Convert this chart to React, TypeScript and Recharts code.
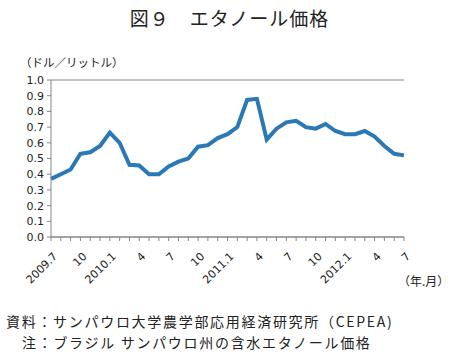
import React from 'react';
import {
  LineChart,
  Line,
  XAxis,
  YAxis,
  CartesianGrid
} from 'recharts';

// monthly categories, 2009.7 .. 2012.7
const MONTHS = [
  '2009.7', '2009.8', '2009.9', '2009.10', '2009.11', '2009.12',
  '2010.1', '2010.2', '2010.3', '2010.4', '2010.5', '2010.6',
  '2010.7', '2010.8', '2010.9', '2010.10', '2010.11', '2010.12',
  '2011.1', '2011.2', '2011.3', '2011.4', '2011.5', '2011.6',
  '2011.7', '2011.8', '2011.9', '2011.10', '2011.11', '2011.12',
  '2012.1', '2012.2', '2012.3', '2012.4', '2012.5', '2012.6',
  '2012.7'
];

// ドル／リットル
const PRICES = [
  0.37, 0.40, 0.43, 0.53, 0.54, 0.58,
  0.665, 0.60, 0.46, 0.455, 0.40, 0.40,
  0.45, 0.48, 0.50, 0.575, 0.585, 0.63,
  0.655, 0.70, 0.873, 0.88, 0.62, 0.69,
  0.73, 0.74, 0.70, 0.69, 0.72, 0.675,
  0.655, 0.655, 0.675, 0.64, 0.58, 0.53,
  0.52
];

// label shown on every third month
const TICK_LABELS = ['2009.7', '10', '2010.1', '4', '7', '10', '2011.1', '4', '7', '10', '2012.1', '4', '7'];

const Y_TICKS = [0, 0.1, 0.2, 0.3, 0.4, 0.5, 0.6, 0.7, 0.8, 0.9, 1.0];

const GRID = '#868686';
const BLUE = '#2a78b6';
const JP = '"Noto Sans CJK JP", "Noto Sans", sans-serif';

const data = MONTHS.map((m, i) => ({ month: m, price: PRICES[i] }));

const MonthTick = (props: any) => {
  const { x, y, index } = props;
  if (index % 3 !== 0) return <g />;
  const ax = x + 7;
  const ay = y + 14;
  return (
    <text
      x={ax}
      y={ay}
      transform={`rotate(-45, ${ax}, ${ay})`}
      textAnchor="end"
      fontSize={11}
      fontFamily="DejaVu Sans, sans-serif"
      fill="#222"
    >
      {TICK_LABELS[index / 3]}
    </text>
  );
};

export default function App() {
  return (
    <div style={{ position: 'absolute', left: 0, top: 0, width: 451, height: 362, background: '#fff', fontFamily: JP, color: '#222' }}>
      <div style={{ position: 'absolute', left: 0, width: 451, top: 5, textAlign: 'center', fontSize: 19, letterSpacing: 1, lineHeight: '26px', paddingLeft: 4 }}>
        図９　エタノール価格
      </div>
      <div style={{ position: 'absolute', left: 20, top: 54, fontSize: 11.5, lineHeight: '16px' }}>
        （ドル／リットル）
      </div>
      <div style={{ position: 'absolute', left: 398, top: 272, fontSize: 12, lineHeight: '18px' }}>
        （年.月）
      </div>
      <div style={{ position: 'absolute', left: 6, top: 311, fontSize: 14, letterSpacing: 1.7, lineHeight: '20px', whiteSpace: 'nowrap' }}>
        資料：サンパウロ大学農学部応用経済研究所（CEPEA)
      </div>
      <div style={{ position: 'absolute', left: 22, top: 332, fontSize: 14, letterSpacing: 1.7, lineHeight: '20px', whiteSpace: 'nowrap' }}>
        注：ブラジル サンパウロ州の含水エタノール価格
      </div>
      <div style={{ position: 'absolute', left: 0, top: 0 }}>
        <LineChart
          width={451}
          height={362}
          data={data}
          margin={{ top: 80, right: 47, left: 11, bottom: 85 }}
        >
          <CartesianGrid vertical={false} stroke={GRID} strokeWidth={1} />
          <XAxis
            dataKey="month"
            interval={0}
            height={40}
            tickSize={4}
            tickLine={{ stroke: GRID }}
            axisLine={{ stroke: GRID }}
            tick={<MonthTick />}
          />
          <YAxis
            yAxisId="left"
            domain={[0, 1]}
            ticks={Y_TICKS}
            interval={0}
            width={40}
            tickSize={4}
            tickMargin={3}
            tickLine={{ stroke: GRID }}
            axisLine={{ stroke: GRID }}
            tickFormatter={(v: number) => v.toFixed(1)}
            tick={{ fill: '#222', fontSize: 11, fontFamily: 'DejaVu Sans, sans-serif' }}
          />
          <YAxis
            yAxisId="right"
            orientation="right"
            domain={[0, 1]}
            width={0}
            tick={false}
            tickLine={false}
            axisLine={{ stroke: GRID }}
          />
          <Line
            yAxisId="left"
            type="linear"
            dataKey="price"
            stroke={BLUE}
            strokeWidth={4}
            dot={false}
            isAnimationActive={false}
          />
        </LineChart>
      </div>
    </div>
  );
}
